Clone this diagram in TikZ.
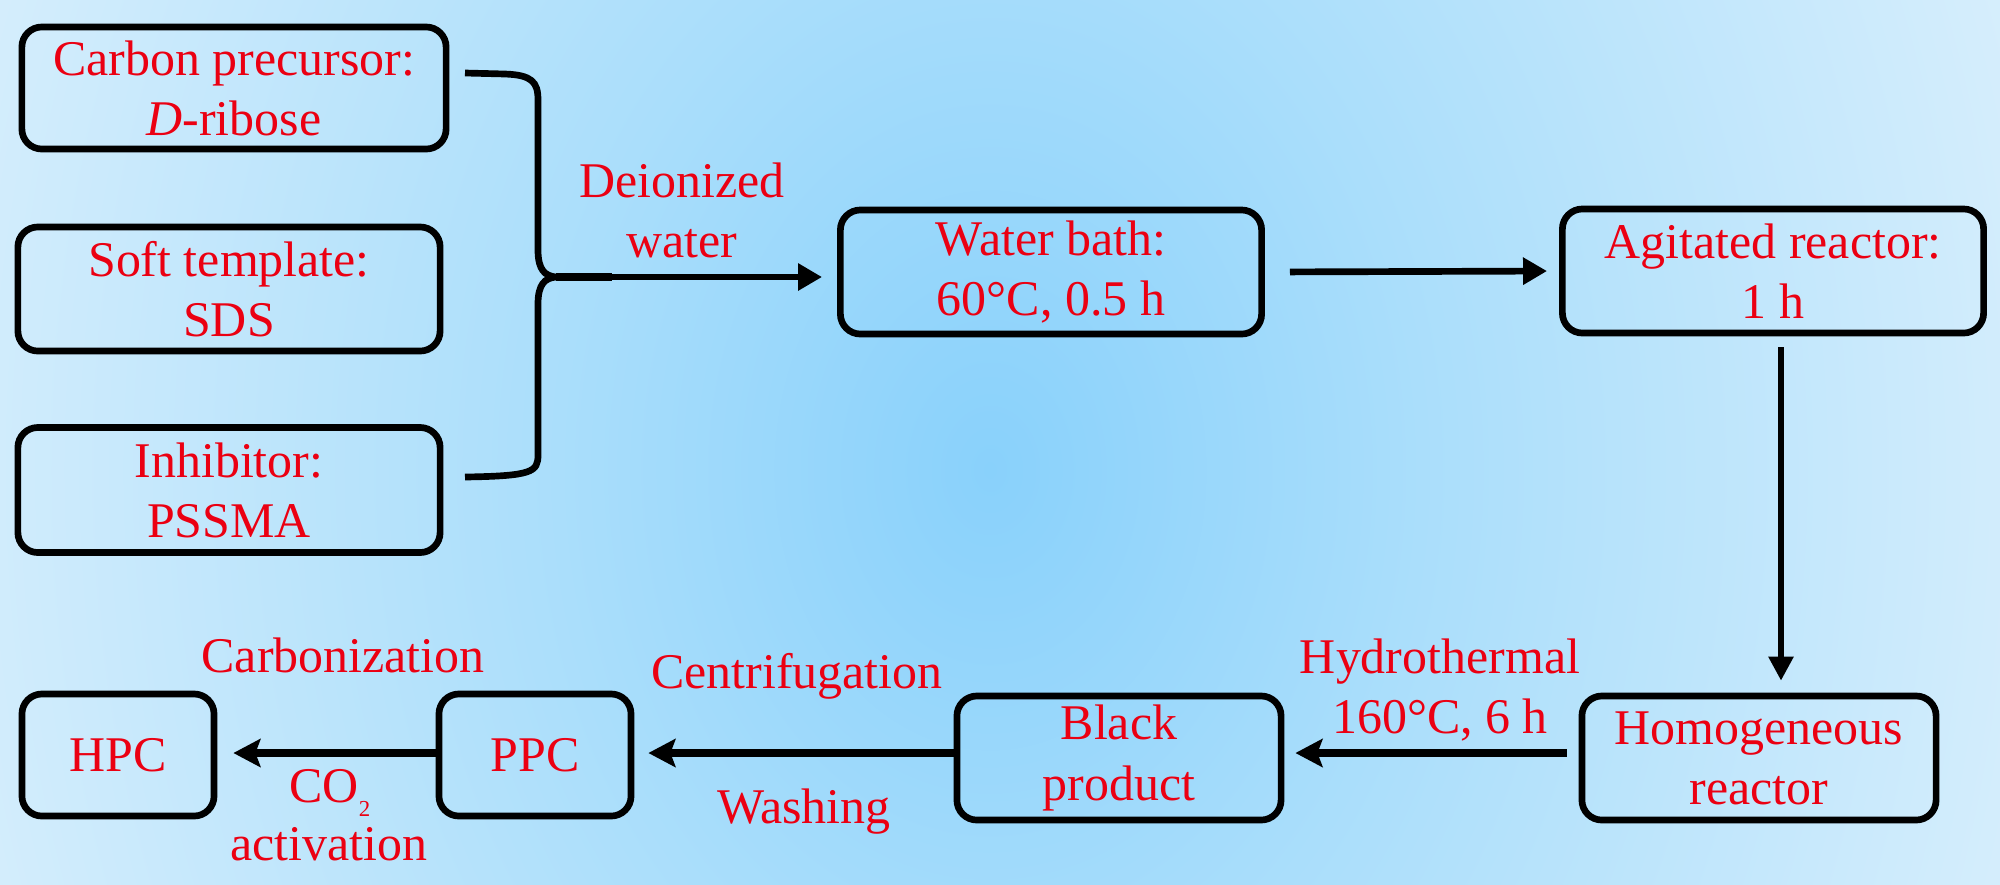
\documentclass[tikz,border=0pt]{standalone}
\usepackage{fontspec}
\setmainfont{Liberation Serif}
\usetikzlibrary{arrows.meta}
\definecolor{txtred}{RGB}{235,0,18}
\definecolor{bgA}{RGB}{137,209,251}
\definecolor{bgB}{RGB}{170,222,251}
\definecolor{bgC}{RGB}{214,238,252}
\pgfdeclareradialshading{bgshade}{\pgfpoint{0bp}{0bp}}{color(0bp)=(bgA); color(10bp)=(bgB); color(25bp)=(bgC); color(50bp)=(bgC)}
\newcommand{\mytxt}{\fontsize{14.2pt}{17.1pt}\selectfont}
\begin{document}
\begin{tikzpicture}[x=0.01cm, y=-0.01cm,
  box/.style={draw=black, line width=1.9pt, rounded corners=0.2cm, text=txtred, align=center, font=\mytxt, inner sep=0pt},
  lbl/.style={text=txtred, align=center, font=\mytxt, inner sep=0pt},
  arr/.style={line width=1.9pt, -{Triangle[length=0.24cm,width=0.26cm]}},
  varr/.style={line width=1.6pt, -{Triangle[length=0.24cm,width=0.24cm]}},
  barr/.style={line width=2.1pt, -{Stealth[length=0.27cm,width=0.28cm,inset=0.05cm]}},
  bracestyle/.style={line width=1.9pt}
]
\useasboundingbox (0,0) rectangle (2000,884);
\begin{scope}
\clip (0,0) rectangle (2000,884);
\fill[bgC] (0,0) rectangle (2000,884);
\shade[shading=bgshade] (990,470) ellipse [x radius=10.8cm, y radius=14cm];
\end{scope}

% boxes
\node[box, minimum width=4.24cm, minimum height=1.22cm] (b1) at (234,88) {Carbon precursor:\\\textit{D}-ribose};
\node[box, minimum width=4.22cm, minimum height=1.24cm] (b2) at (229,289) {Soft template:\\SDS};
\node[box, minimum width=4.22cm, minimum height=1.25cm] (b3) at (229,490) {Inhibitor:\\PSSMA};
\node[box, minimum width=4.21cm, minimum height=1.24cm] (water) at (1051,272) {Water bath:\\60°C, 0.5 h};
\node[box, minimum width=4.21cm, minimum height=1.24cm] (agit) at (1773,271) {Agitated reactor:\\1 h};
\node[box, minimum width=3.54cm, minimum height=1.24cm] (homog) at (1759,758) {Homogeneous\\reactor};
\node[box, minimum width=3.24cm, minimum height=1.24cm] (black) at (1119,758) {Black\\product};
\node[box, minimum width=1.92cm, minimum height=1.22cm] (ppc) at (535,755) {PPC};
\node[box, minimum width=1.92cm, minimum height=1.22cm] (hpc) at (118,755) {HPC};

% brace
\coordinate (brT) at (465,73);
\coordinate (brB) at (465,477);
\coordinate (brTip) at (556,277);
\coordinate (brTail) at (612,277);
\draw[bracestyle] (brT) -- (505,74) .. controls (532,75) and (538,82) .. (538,100) -- (538,250)
  .. controls (538,270) and (545,276) .. (brTip)
  .. controls (545,278) and (538,284) .. (538,304) -- (538,455)
  .. controls (538,472) and (532,476) .. (brB);
\draw[line width=2.5pt] (brTip) -- (brTail);
\draw[arr, shorten >=0.15cm] (brTail) -- (brTail -| water.west);

% arrows
\draw[arr, shorten <=0.25cm, shorten >=0.12cm] (water.east) -- (agit.west);
\coordinate (vx) at (1781,0);
\draw[varr, shorten <=0.11cm, shorten >=0.12cm] (agit.south -| vx) -- (homog.north -| vx);
\coordinate (row) at (0,753);
\draw[barr, shorten <=0.12cm, shorten >=0.11cm] (homog.west |- row) -- (black.east |- row);
\draw[barr, shorten >=0.14cm] (black.west |- row) -- (ppc.east |- row);
\draw[barr, shorten >=0.16cm] (ppc.west |- row) -- (hpc.east |- row);

% labels
\node[lbl] (dw) at (682,210) {Deionized\\water};
\node[lbl] (hy) at (1440,690) {Hydrothermal\\160°C, 6 h};
\node[lbl, anchor=base] (cf) at (797,688) {Centrifugation};
\node[lbl, anchor=base] (wa) at (804,823) {Washing};
\node[lbl, anchor=base] (cb) at (343,672) {Carbonization};
\node[lbl, anchor=base] (co) at (330,802) {CO\raisebox{-0.3em}{\fontsize{6.5pt}{7pt}\selectfont 2}};
\node[lbl, anchor=base] (ac) at (329,860) {activation};
\end{tikzpicture}
\end{document}
